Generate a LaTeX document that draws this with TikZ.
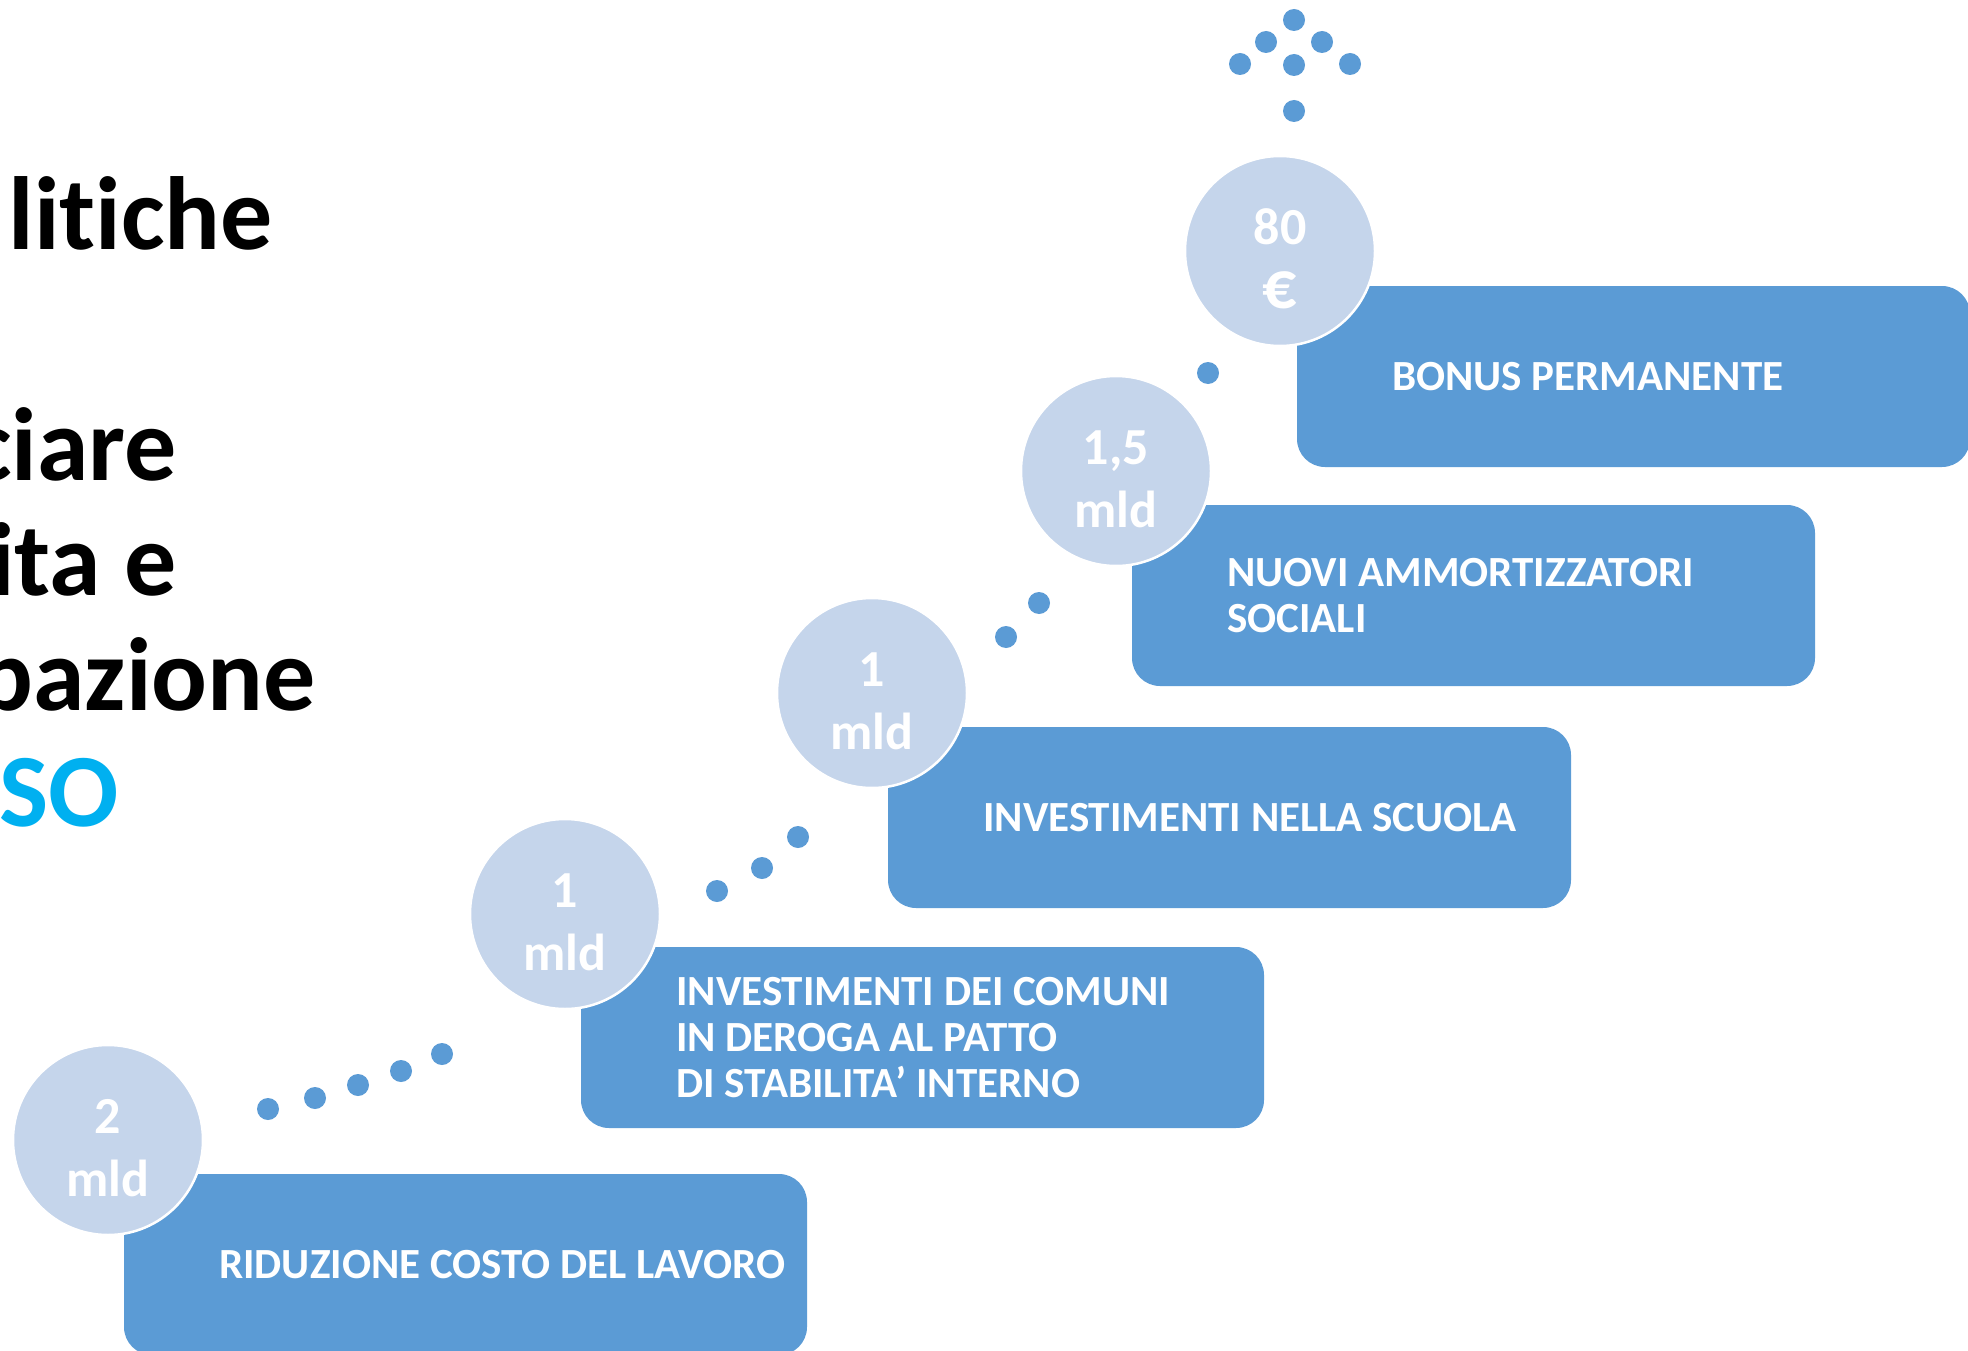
\documentclass[tikz,border=0pt]{standalone}
\usepackage{fontspec}
\setmainfont{Carlito}[Ligatures=NoCommon]
\definecolor{boxblue}{HTML}{5B9BD5}
\definecolor{circblue}{HTML}{C5D5EB}
\definecolor{titlecyan}{HTML}{00B0F0}
\begin{document}
\begin{tikzpicture}[x=1pt,y=-1pt,
  stepbox/.style={draw=none, fill=boxblue, rounded corners=28pt, minimum width=683pt, minimum height=181pt, anchor=north west, inner sep=0pt, outer sep=0pt},
  amount/.style={circle, fill=circblue, draw=white, line width=2.5pt, minimum size=190pt, inner sep=0pt},
  amounttext/.style={text=white, font=\bfseries\fontsize{52}{63}\selectfont, anchor=base, inner sep=0pt},
  steptext/.style={text=white, font=\bfseries\fontsize{43}{46}\selectfont, align=left, anchor=west, inner sep=0pt},
  titletext/.style={font=\bfseries\fontsize{104}{115}\selectfont, anchor=base east, inner sep=0pt},
  pathdot/.style={fill=boxblue}
]
\useasboundingbox (0,0) rectangle (1968,1351);
\fill[white] (0,0) rectangle (1968,1351);

% title fragments
\node[titletext] (ti1) at (273,250) {litiche};
\node[titletext] (ti2) at (177,480) {ciare};
\node[titletext] (ti3) at (177,595) {ita e};
\node[titletext] (ti4) at (316,710) {pazione};
\node[titletext, text=titlecyan] (ti5) at (119,826) {SO};

% boxes
\node[stepbox] (b1) at (124,1174) {};
\node[stepbox] (b2) at (581,947) {};
\node[stepbox] (b3) at (888,727) {};
\node[stepbox] (b4) at (1132,505) {};
\node[stepbox, minimum width=673pt] (b5) at (1297,286) {};

% box texts
\node[steptext] (s1) at (219,1264.5) {RIDUZIONE COSTO DEL LAVORO};
\node[steptext] (s2) at (676,1037.5) {INVESTIMENTI DEI COMUNI\\IN DEROGA AL PATTO\\DI STABILITA’ INTERNO};
\node[steptext] (s3) at (983,817.5) {INVESTIMENTI NELLA SCUOLA};
\node[steptext] (s4) at (1227,595.5) {NUOVI AMMORTIZZATORI\\SOCIALI};
\node[steptext] (s5) at (1392,376.5) {BONUS PERMANENTE};

% circles
\node[amount] (c1) at (108,1140) {};
\node[amount] (c2) at (565,914) {};
\node[amount] (c3) at (872,693) {};
\node[amount] (c4) at (1116,471) {};
\node[amount] (c5) at (1280,251) {};

\node[amounttext] (a1) at (108,1133) {2};
\node[amounttext] (m1) at (108,1196) {mld};
\node[amounttext] (a2) at (565,907) {1};
\node[amounttext] (m2) at (565,970) {mld};
\node[amounttext] (a3) at (872,686) {1};
\node[amounttext] (m3) at (872,749) {mld};
\node[amounttext] (a4) at (1116,464) {1,5};
\node[amounttext] (m4) at (1116,527) {mld};
\node[amounttext] (a5) at (1280,244) {80};
\node[amounttext, font=\bfseries\fontsize{68}{68}\selectfont] (m5) at (1280,308) {€};

% dotted steps
\foreach \p in {(268,1109),(315,1098),(358,1085),(401,1071),(442,1054),
                (717,891),(762,868),(798,837),
                (1006,637),(1039,603),
                (1208,373),
                (1294,20),(1266,42),(1322,42),(1240,64),(1294,65),(1350,64),(1294,111)}
  \fill[pathdot] \p circle[radius=11pt];
\end{tikzpicture}
\end{document}
